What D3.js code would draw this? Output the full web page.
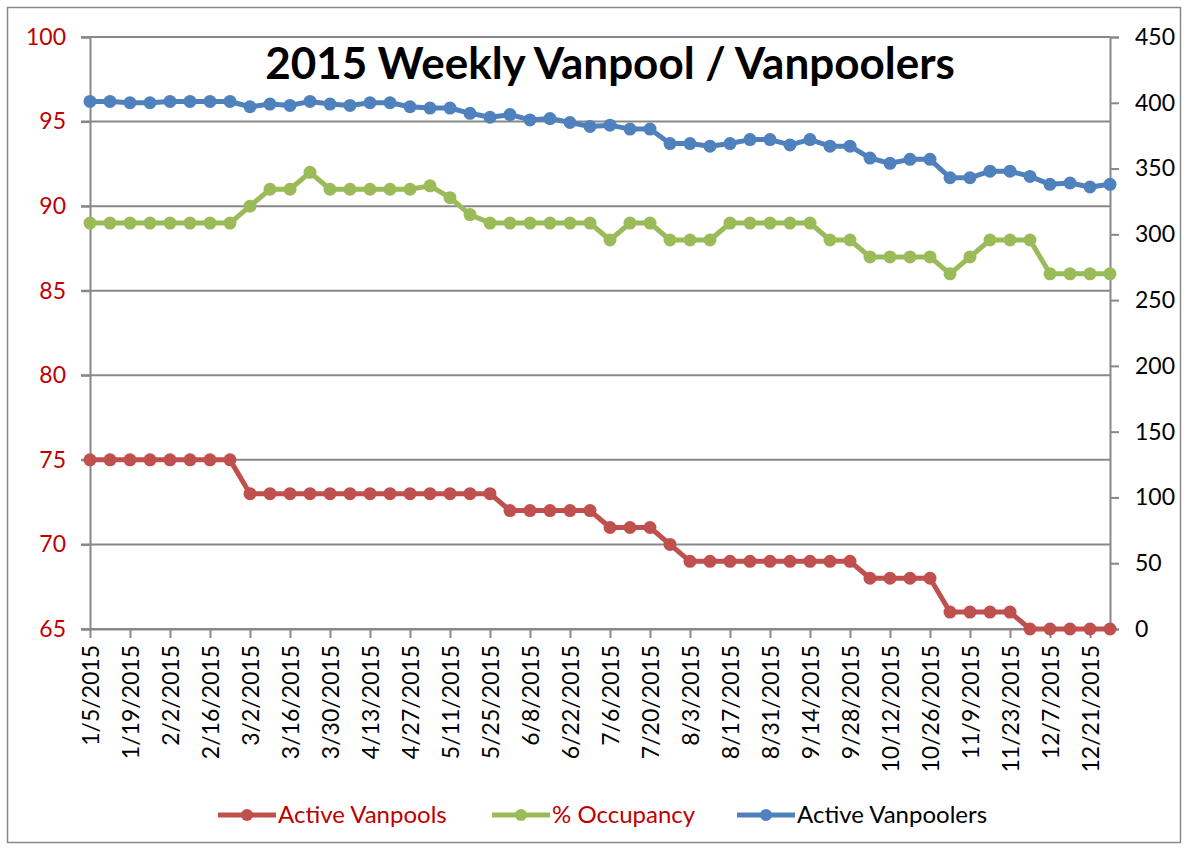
<!DOCTYPE html>
<meta charset="utf-8">
<style>
  body { margin: 0; background: #fff; font-family: Lato, "Open Sans", sans-serif; }
  .grid line { stroke: #888; stroke-width: 2; }
  .axis path, .axis line { stroke: #888; stroke-width: 2; }
  .axis text { font-family: Lato, "Open Sans", sans-serif; }
</style>
<body></body>
<script src="https://cdn.jsdelivr.net/npm/d3@7"></script>
<script>

// weekly dates, Mondays 1/5/2015 .. 12/28/2015
var weeks = d3.timeMondays(new Date(2015, 0, 5), new Date(2015, 11, 29));

var activeVanpools = [75,75,75,75,75,75,75,75, 73,73,73,73,73,73,73,73,73,73,73,73,73,
    72,72,72,72,72, 71,71,71, 70, 69,69,69,69,69,69,69,69,69, 68,68,68,68, 66,66,66,66, 65,65,65,65,65];

var occupancy = [89,89,89,89,89,89,89,89, 90,91,91,92, 91,91,91,91,91, 91.2,90.5,89.5,
    89,89,89,89,89,89, 88,89,89, 88,88,88, 89,89,89,89,89, 88,88, 87,87,87,87, 86, 87, 88,88,88, 86,86,86,86];

var activeVanpoolers = [401,401,400,400,401,401,401,401, 397,399,398,401,399,398,400,400,397,
    396,396,392, 389,391,387,388,385,382,383,380,380, 369,369,367,369,372,372,368,372,367,367,
    358,354,357,357, 343,343,348,348,344, 338,339,336,338];

var leftTicks = [65,70,75,80,85,90,95,100];
var rightTicks = [0,50,100,150,200,250,300,350,400,450];

var series = [
  {name: "Active Vanpools", values: activeVanpools, color: "#C0504D", axis: "left", text: "#C00000"},
  {name: "% Occupancy", values: occupancy, color: "#9BBB59", axis: "left", text: "#C00000"},
  {name: "Active Vanpoolers", values: activeVanpoolers, color: "#4F81BD", axis: "right", text: "#000"}
];

var W = 1188, H = 850;
var margin = {top: 37, right: 78, bottom: 221, left: 90};
var w = W - margin.left - margin.right,
    h = H - margin.top - margin.bottom;

var svg = d3.select("body").append("svg")
    .attr("width", W)
    .attr("height", H);

// outer frame
svg.append("rect")
    .attr("x", 7.5).attr("y", 7.5)
    .attr("width", W - 15).attr("height", H - 15)
    .attr("fill", "none").attr("stroke", "#888").attr("stroke-width", 1.5);

var g = svg.append("g")
    .attr("transform", "translate(" + margin.left + "," + margin.top + ")");

var x = d3.scalePoint()
    .domain(d3.range(weeks.length))
    .range([0, w]);

var yl = d3.scaleLinear().domain([65, 100]).range([h, 0]);
var yr = d3.scaleLinear().domain([0, 450]).range([h, 0]);

// gridlines
g.append("g").attr("class", "grid")
  .selectAll("line")
  .data(leftTicks)
  .enter().append("line")
    .attr("x1", -9).attr("x2", w)
    .attr("y1", function(d) { return yl(d); })
    .attr("y2", function(d) { return yl(d); });

// left axis
var leftAxis = g.append("g").attr("class", "axis")
    .call(d3.axisLeft(yl).tickValues(leftTicks).tickSize(9).tickPadding(15));
leftAxis.selectAll("text")
    .attr("fill", "#C00000").style("font-size", "23px");

// right axis
var rightAxis = g.append("g").attr("class", "axis")
    .attr("transform", "translate(" + w + ",0)")
    .call(d3.axisRight(yr).tickValues(rightTicks).tickSize(9).tickPadding(16));
rightAxis.selectAll("text")
    .attr("fill", "#000").style("font-size", "23px");

// bottom axis, label every other week
var fmt = function(i) {
  var d = weeks[i];
  return (d.getMonth() + 1) + "/" + d.getDate() + "/" + d.getFullYear();
};
var xAxis = g.append("g").attr("class", "axis")
    .attr("transform", "translate(0," + h + ")")
    .call(d3.axisBottom(x)
        .tickValues(d3.range(0, weeks.length, 2))
        .tickFormat(fmt)
        .tickSize(9).tickSizeOuter(0));
xAxis.selectAll("text")
    .attr("fill", "#000")
    .style("font-size", "23px")
    .attr("transform", "rotate(-90)")
    .attr("text-anchor", "end")
    .attr("x", -16)
    .attr("y", 0)
    .attr("dy", "0.36em");

// lines and markers
series.forEach(function(s) {
  var yy = s.axis == "left" ? yl : yr;
  var line = d3.line()
      .x(function(d, i) { return x(i); })
      .y(function(d) { return yy(d); });
  g.append("path")
      .datum(s.values)
      .attr("fill", "none")
      .attr("stroke", s.color)
      .attr("stroke-width", 5)
      .attr("stroke-linejoin", "round")
      .attr("d", line);
  g.selectAll(null)
      .data(s.values)
      .enter().append("circle")
      .attr("cx", function(d, i) { return x(i); })
      .attr("cy", function(d) { return yy(d); })
      .attr("r", 6.5)
      .attr("fill", s.color);
});

// title
svg.append("text")
    .attr("x", 610).attr("y", 79)
    .attr("text-anchor", "middle")
    .style("font-size", "44px")
    .style("font-weight", "bold")
    .attr("fill", "#000")
    .text("2015 Weekly Vanpool / Vanpoolers");

// legend
var legendX = [218, 492, 737];
var legend = svg.selectAll(".legend")
    .data(series)
    .enter().append("g")
    .attr("class", "legend")
    .attr("transform", function(d, i) { return "translate(" + legendX[i] + ",815)"; });
legend.append("line")
    .attr("x1", 0).attr("x2", 58)
    .attr("stroke", function(d) { return d.color; })
    .attr("stroke-width", 5);
legend.append("circle")
    .attr("cx", 29).attr("r", 6)
    .attr("fill", function(d) { return d.color; });
legend.append("text")
    .attr("x", 60).attr("dy", "0.35em")
    .style("font-size", "24px")
    .attr("fill", function(d) { return d.text; })
    .text(function(d) { return d.name; });

</script>
